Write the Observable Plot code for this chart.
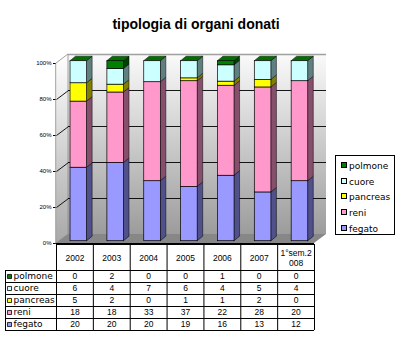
<!DOCTYPE html>
<html><head><meta charset="utf-8">
<script src="https://cdn.jsdelivr.net/npm/d3@7"></script>
<script src="https://cdn.jsdelivr.net/npm/@observablehq/plot@0.6"></script>
<style>
body{margin:0;background:#fff}
#wrap{position:relative;width:400px;height:339px;overflow:hidden;background:#fff}
#wrap svg.plot{display:block}
#title{position:absolute;left:0;top:16px;width:392px;text-align:center;font:bold 14px/16px "Liberation Sans",Arial,sans-serif;color:#000}
#legend{position:absolute;left:335px;top:155px;width:60px;height:80px;box-sizing:border-box;border:1px solid #000;background:#fff;font:9px "DejaVu Sans",sans-serif}
#legend .it{position:absolute;left:5px;height:12px;line-height:12px;white-space:nowrap}
#legend .sw{display:inline-block;width:4px;height:4px;border:1px solid #000;margin-right:2px;vertical-align:1px}
</style>
</head><body>
<svg width="0" height="0" style="position:absolute"><defs>
<linearGradient id="gWall" x1="0" y1="0" x2="0" y2="1"><stop offset="0" stop-color="#fafafa"/><stop offset="1" stop-color="#9c9c9c"/></linearGradient>
<linearGradient id="gSide" x1="0" y1="0" x2="0" y2="1"><stop offset="0" stop-color="#ffffff"/><stop offset="1" stop-color="#a8a8a8"/></linearGradient>
</defs></svg>
<div id="wrap"><div id="chart"></div><div id="table"></div><div id="title"></div><div id="legend"></div></div>
<script>
// ---- data ----
const title = "tipologia di organi donati";
const years = ["2002", "2003", "2004", "2005", "2006", "2007", "1°sem.2008"];
const series = ["fegato", "reni", "pancreas", "cuore", "polmone"]; // bottom to top
const fegato = [20, 20, 20, 19, 16, 13, 12];
const reni = [18, 18, 33, 37, 22, 28, 20];
const pancreas = [5, 2, 0, 1, 1, 2, 0];
const cuore = [6, 4, 7, 6, 4, 5, 4];
const polmone = [0, 2, 0, 0, 1, 0, 0];
const yTicks = [0, 0.2, 0.4, 0.6, 0.8, 1];
const frontColors = ["#9999ff", "#ff99cc", "#ffff00", "#ccffff", "#008000"];
const sideColors = ["#50508a", "#86506c", "#808000", "#608080", "#004000"];
const topColor = "#007000";

const values = [fegato, reni, pancreas, cuore, polmone];

// ---- geometry helpers (pixels -> data units) ----
const PXU = 258 / 7, PXY = 180;
const ux = p => p / PXU, uy = p => p / PXY;
const WX = ux(12), WY = uy(9);                 // wall depth
const BCO = ux(3.9), BHW = ux(8.3), BY = uy(2.3), BDX = ux(5.5), BDY = uy(4.5); // bar placement/depth
const X0 = -0.5, X1 = years.length - 0.5;

const rows = years.map((y, j) => Object.fromEntries(series.map((s, k) => [s, values[k][j]])));
const stacked = d3.stack().keys(series).offset(d3.stackOffsetExpand)(rows);
const segs = stacked.flatMap((layer, k) => layer.map((d, j) => ({k, j, y0: d[0], y1: d[1], key: k + "-" + j})))
  .filter(d => d.y1 - d.y0 > 1e-9);
const sidePts = segs.flatMap(d => {
  const xr = d.j + BCO + BHW;
  return [{key: d.key, fill: sideColors[d.k], x: xr, y1: d.y0 + BY, y2: d.y1 + BY},
          {key: d.key, fill: sideColors[d.k], x: xr + BDX, y1: d.y0 + BY + BDY, y2: d.y1 + BY + BDY}];
});
const topPts = years.flatMap((_, j) => {
  const xl = j + BCO - BHW, xr = j + BCO + BHW;
  return [{j, y: 1 + BY, x1: xl, x2: xr}, {j, y: 1 + BY + BDY, x1: xl + BDX, x2: xr + BDX}];
});
const inner = yTicks.filter(t => t > 0 && t < 1);

const chart = Plot.plot({
  width: 400, height: 244,
  marginTop: 63, marginBottom: 1, marginLeft: 56, marginRight: 86,
  style: {background: "transparent", color: "#000", fontFamily: "'Liberation Sans', Arial, sans-serif", fontSize: "6px", overflow: "visible"},
  x: {domain: [X0, X1], axis: null},
  y: {domain: [0, 1], ticks: yTicks, tickFormat: d3.format(".0%"), tickSize: 3, tickPadding: 2, label: null},
  color: {type: "identity"},
  marks: [
    Plot.rect([0], {x1: X0 + WX, x2: X1 + WX, y1: WY, y2: 1 + WY, fill: "url(#gWall)"}),
    Plot.areaY([{x: X0, y1: 0, y2: 1}, {x: X0 + WX, y1: WY, y2: 1 + WY}], {x: "x", y1: "y1", y2: "y2", fill: "url(#gSide)", stroke: "#8a8a8a", strokeWidth: 0.8}),
    Plot.areaX([{y: 0, x1: X0, x2: X1}, {y: WY, x1: X0 + WX, x2: X1 + WX}], {y: "y", x1: "x1", x2: "x2", fill: "#878787"}),
    Plot.ruleY(inner, {y: t => t + WY, x1: X0 + WX, x2: X1 + WX, stroke: "#000", strokeWidth: 0.9}),
    Plot.ruleY([1], {y: t => t + WY, x1: X0 + WX, x2: X1 + WX, stroke: "#a0a0a0", strokeWidth: 1.5}),
    Plot.link(inner, {x1: X0, y1: t => t, x2: X0 + WX, y2: t => t + WY, stroke: "#000", strokeWidth: 0.9}),
    Plot.areaY(sidePts, {x: "x", y1: "y1", y2: "y2", z: "key", fill: "fill", stroke: "#000", strokeWidth: 0.5}),
    Plot.areaX(topPts, {y: "y", x1: "x1", x2: "x2", z: "j", fill: topColor, stroke: "#000", strokeWidth: 0.5}),
    Plot.rect(segs, {x1: d => d.j + BCO - BHW, x2: d => d.j + BCO + BHW, y1: d => d.y0 + BY, y2: d => d.y1 + BY, fill: d => frontColors[d.k], stroke: "#000", strokeWidth: 0.7}),
    Plot.ruleY([0], {x1: X0, x2: X1, stroke: "#000"})
  ]
});
chart.classList.add("plot");
document.getElementById("chart").appendChild(chart);

// ---- data table ----
const HEAD = 26 / 12;            // header height in row units
const LABELW = ux(51);           // label column width
const rowSeries = series.slice().reverse();
const cells = rowSeries.flatMap((s, r) => values[series.indexOf(s)].map((v, j) => ({r, j, v})));
const wrapLabel = s => s.length > 7 ? s.slice(0, 7) + "\n" + s.slice(7) : s;
const numFont = "'Liberation Sans Narrow', 'Arial Narrow', 'Liberation Sans', Arial, sans-serif";

const table = Plot.plot({
  width: 400, height: 95,
  marginTop: 0, marginBottom: 9, marginLeft: 56, marginRight: 86,
  style: {background: "transparent", color: "#000", fontFamily: numFont, fontSize: "8.5px", overflow: "visible"},
  x: {domain: [X0, X1], axis: null},
  y: {domain: [-HEAD, rowSeries.length], reverse: true, axis: null},
  color: {type: "identity"},
  marks: [
    Plot.ruleY([-HEAD], {x1: X0, x2: X1, stroke: "#000"}),
    Plot.ruleY(d3.range(rowSeries.length + 1), {x1: X0 - LABELW, x2: X1, stroke: "#000"}),
    Plot.ruleX(d3.range(years.length + 1).map(i => i - 0.5), {y1: -HEAD, y2: rowSeries.length, stroke: "#000"}),
    Plot.ruleX([X0 - LABELW], {y1: 0, y2: rowSeries.length, stroke: "#000"}),
    Plot.text(years, {x: (d, i) => i, y: -HEAD / 2, text: d => wrapLabel(d), lineHeight: 1.25}),
    Plot.text(cells, {x: "j", y: d => d.r + 0.5, text: d => String(d.v)}),
    Plot.dot(rowSeries, {x: X0 - LABELW, dx: 4, y: (d, i) => i + 0.5, symbol: "square", r: 2.3, fill: d => frontColors[series.indexOf(d)], stroke: "#000", strokeWidth: 0.8}),
    Plot.text(rowSeries, {x: X0 - LABELW, dx: 8, y: (d, i) => i + 0.5, text: d => d, textAnchor: "start", fontFamily: "'DejaVu Sans', sans-serif", fontSize: 9})
  ]
});
table.classList.add("plot");
document.getElementById("table").appendChild(table);

// ---- title & legend ----
document.getElementById("title").textContent = title;
const legend = document.getElementById("legend");
rowSeries.forEach((s, i) => {
  const it = document.createElement("div");
  it.className = "it";
  it.style.top = (4 + i * 15.7) + "px";
  const sw = document.createElement("span");
  sw.className = "sw";
  sw.style.background = frontColors[series.indexOf(s)];
  it.appendChild(sw);
  it.appendChild(document.createTextNode(s));
  legend.appendChild(it);
});
</script>
</body></html>
